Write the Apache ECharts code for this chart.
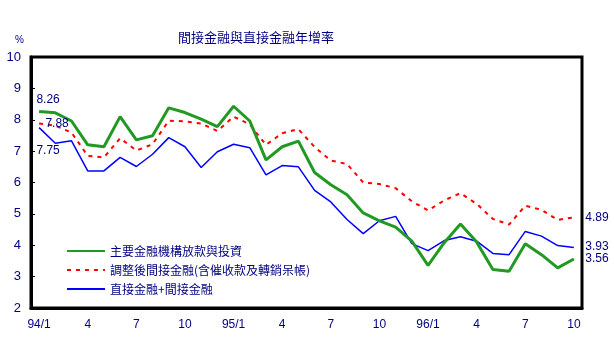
<!DOCTYPE html>
<html>
<head>
<meta charset="utf-8">
<script src="https://cdn.jsdelivr.net/npm/echarts@6/dist/echarts.min.js"></script>
<style>html,body{margin:0;padding:0;background:#fff}#c{width:614px;height:358px}</style>
</head>
<body>
<div id="c"></div>
<script>
var categories = ['94/1','2','3','4','5','6','7','8','9','10','11','12',
                  '95/1','2','3','4','5','6','7','8','9','10','11','12',
                  '96/1','2','3','4','5','6','7','8','9','10'];
var seriesNames = ['主要金融機構放款與投資','調整後間接金融(含催收款及轉銷呆帳)','直接金融+間接金融'];
var mainLoans = [8.26,8.22,7.96,7.20,7.14,8.10,7.36,7.49,8.38,8.23,8.02,7.78,
                 8.43,7.96,6.72,7.14,7.32,6.32,5.93,5.61,5.03,4.78,4.58,4.13,
                 3.36,4.08,4.68,4.10,3.23,3.17,4.05,3.70,3.28,3.56];
var adjIndirect = [7.88,7.81,7.59,6.85,6.80,7.41,7.02,7.22,7.97,7.95,7.88,7.64,
                   8.10,7.85,7.20,7.57,7.70,7.13,6.70,6.59,6.00,5.95,5.82,5.40,
                   5.11,5.43,5.66,5.32,4.84,4.66,5.26,5.13,4.81,4.89];
var directIndirect = [7.75,7.25,7.33,6.37,6.37,6.80,6.51,6.90,7.43,7.14,6.48,6.98,
                      7.22,7.11,6.24,6.54,6.50,5.75,5.38,4.82,4.37,4.78,4.92,4.05,
                      3.83,4.15,4.27,4.13,3.74,3.70,4.44,4.29,3.99,3.93];
var yTicks = [2,3,4,5,6,7,8,9,10];

var navy = '#000080';
var lblFont = {color: navy, fontSize: 12, fontFamily: 'Liberation Sans, Arial, sans-serif'};

function endMarks(values, firstOffset, lastOffset) {
  var n = values.length - 1;
  return {
    symbol: 'circle', symbolSize: 1, silent: true,
    itemStyle: {color: 'rgba(0,0,0,0)'},
    data: [
      {coord: [0, values[0]], value: values[0].toFixed(2),
       label: Object.assign({show: true, position: 'inside', offset: firstOffset, formatter: '{c}'}, lblFont)},
      {coord: [n, values[n]], value: values[n].toFixed(2),
       label: Object.assign({show: true, position: 'inside', offset: lastOffset, formatter: '{c}'}, lblFont)}
    ]
  };
}

var chart = echarts.init(document.getElementById('c'), null, {renderer: 'canvas'});
chart.setOption({
  animation: false,
  backgroundColor: '#fff',
  title: {
    text: '間接金融與直接金融年增率',
    left: 173, top: 26,
    textStyle: {color: navy, fontSize: 13, fontWeight: 'normal', fontFamily: 'Noto Sans CJK TC'}
  },
  graphic: [{
    type: 'text', left: 15, top: 35,
    style: {text: '%', fill: navy, font: '10px Liberation Sans'}
  }],
  legend: {
    orient: 'vertical', left: 66, top: 245,
    itemWidth: 38, itemHeight: 12, itemGap: 7, padding: 0,
    itemStyle: {opacity: 0},
    textStyle: {color: navy, fontSize: 12, fontFamily: 'Noto Sans CJK TC'},
    data: seriesNames
  },
  grid: {
    left: 31, right: 32, top: 57, bottom: 50,
    show: true, borderColor: '#000', borderWidth: 3
  },
  xAxis: {
    type: 'category', data: categories, boundaryGap: true,
    axisLine: {lineStyle: {color: '#000', width: 3}},
    axisTick: {inside: true, length: 4, interval: 0, lineStyle: {color: '#000', width: 1}},
    axisLabel: {interval: 2, margin: 11, color: navy, fontSize: 12, fontFamily: 'Liberation Sans, Arial'},
    splitLine: {show: false}
  },
  yAxis: {
    type: 'value', min: yTicks[0], max: yTicks[yTicks.length - 1], interval: 1,
    axisLine: {show: true, lineStyle: {color: '#000', width: 3}},
    axisTick: {show: true, inside: true, length: 4, lineStyle: {color: '#000', width: 1}},
    axisLabel: {margin: 10, color: navy, fontSize: 13, fontFamily: 'Liberation Sans, Arial'},
    splitLine: {show: false}
  },
  series: [
    {
      name: seriesNames[0], type: 'line', data: mainLoans, symbol: 'none',
      lineStyle: {color: '#229922', width: 3}, itemStyle: {color: '#229922'},
      markPoint: endMarks(mainLoans, [9, -12], [23, 0]), z: 3
    },
    {
      name: seriesNames[1], type: 'line', data: adjIndirect, symbol: 'none',
      lineStyle: {color: '#ff0000', width: 2, type: [4, 5]}, itemStyle: {color: '#ff0000'},
      markPoint: endMarks(adjIndirect, [18, 0], [23, 0]), z: 2
    },
    {
      name: seriesNames[2], type: 'line', data: directIndirect, symbol: 'none',
      lineStyle: {color: '#0000ff', width: 1.5}, itemStyle: {color: '#0000ff'},
      markPoint: endMarks(directIndirect, [9, 23], [23, -1]), z: 2
    }
  ]
});
</script>
</body>
</html>
